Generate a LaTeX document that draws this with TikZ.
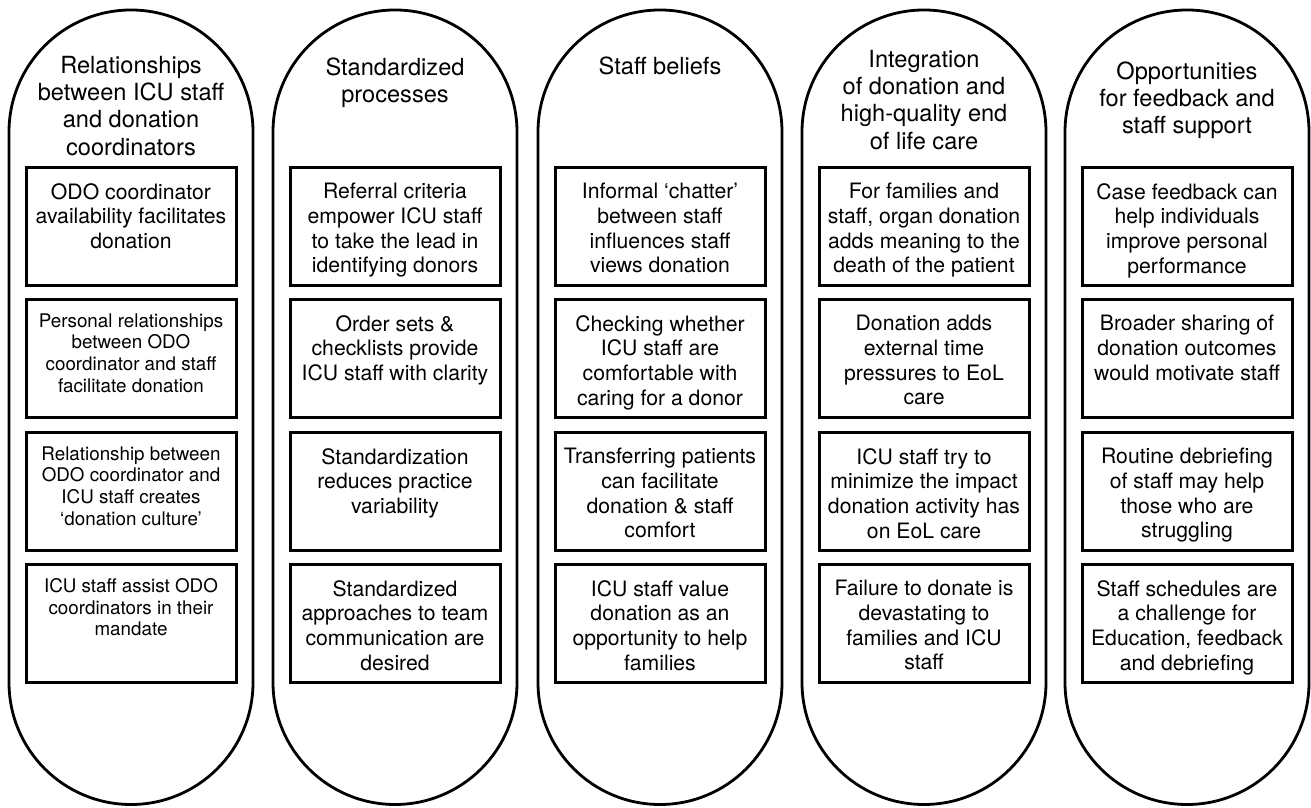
\documentclass[tikz,border=0pt]{standalone}
\usepackage{fontspec}
\setmainfont{TeX Gyre Heros}

\begin{document}
\begin{tikzpicture}[
    x=0.5pt, y=0.5pt,
    pill/.style={draw=black, line width=1.4pt},
    cell/.style={draw=black, line width=1.5pt},
    head/.style={font=\fontsize{11.8}{13.6}\selectfont, align=center,
                 inner sep=0pt, anchor=north},
    txt/.style={font=\fontsize{10.6}{12.3}\selectfont, align=center,
                inner sep=0pt, anchor=north},
    txts/.style={txt, font=\fontsize{9.4}{10.85}\selectfont},
]
\useasboundingbox (0,0) rectangle (1311,808);

% ===================== Relationships =====================
\draw[pill] (9,676) arc[start angle=180, end angle=0, radius=122]
      -- (253,125.5) arc[start angle=0, end angle=-180, radius=122] -- cycle;
\node[head] (hRel) at (131,752)
      {Relationships\\between ICU staff\\and donation\\coordinators};

\draw[cell] (26,640) rectangle (236,522);
\node[txt] (rel1) at (131,625) {ODO coordinator\\availability facilitates\\donation};

\draw[cell] (26,508) rectangle (236,390);
\node[txts] (rel2) at (131,495) {Personal relationships\\between ODO\\coordinator and staff\\facilitate donation};

\draw[cell] (26,375) rectangle (236,257);
\node[txts] (rel3) at (131,362) {Relationship between\\ODO coordinator and\\ICU staff creates\\‘donation culture’};

\draw[cell] (26,243) rectangle (236,125);
\node[txts] (rel4) at (131,230) {ICU staff assist ODO\\coordinators in their\\mandate};

% ===================== Standardized processes =====================
\draw[pill] (273,676) arc[start angle=180, end angle=0, radius=122]
      -- (517,125.5) arc[start angle=0, end angle=-180, radius=122] -- cycle;
\node[head] (hStd) at (395,751) {Standardized\\processes};

\draw[cell] (290,640) rectangle (500,522);
\node[txt] (std1) at (395,625) {Referral criteria\\empower ICU staff\\to take the lead in\\identifying donors};

\draw[cell] (290,508) rectangle (500,390);
\node[txt] (std2) at (395,493) {Order sets \&\\checklists provide\\ICU staff with clarity};

\draw[cell] (290,375) rectangle (500,257);
\node[txt] (std3) at (395,360) {Standardization\\reduces practice\\variability};

\draw[cell] (290,243) rectangle (500,125);
\node[txt] (std4) at (395,228) {Standardized\\approaches to team\\communication are\\desired};

% ===================== Staff beliefs =====================
\draw[pill] (538,676) arc[start angle=180, end angle=0, radius=122]
      -- (782,125.5) arc[start angle=0, end angle=-180, radius=122] -- cycle;
\node[head] (hBel) at (660,752) {Staff beliefs};

\draw[cell] (555,640) rectangle (765,522);
\node[txt] (bel1) at (660,625) {Informal ‘chatter’\\between staff\\influences staff\\views donation};

\draw[cell] (555,508) rectangle (765,390);
\node[txt] (bel2) at (660,493) {Checking whether\\ICU staff are\\comfortable with\\caring for a donor};

\draw[cell] (555,375) rectangle (765,257);
\node[txt] (bel3) at (660,360) {Transferring patients\\can facilitate\\donation \& staff\\comfort};

\draw[cell] (555,243) rectangle (765,125);
\node[txt] (bel4) at (660,228) {ICU staff value\\donation as an\\opportunity to help\\families};

% ===================== Integration / EoL care =====================
\draw[pill] (802,676) arc[start angle=180, end angle=0, radius=122]
      -- (1046,125.5) arc[start angle=0, end angle=-180, radius=122] -- cycle;
\node[head] (hInt) at (924,758)
      {Integration\\of donation and\\high-quality end\\of life care};

\draw[cell] (819,640) rectangle (1029,522);
\node[txt] (int1) at (924,625) {For families and\\staff, organ donation\\adds meaning to the\\death of the patient};

\draw[cell] (819,508) rectangle (1029,390);
\node[txt] (int2) at (924,493) {Donation adds\\external time\\pressures to EoL\\care};

\draw[cell] (819,375) rectangle (1029,257);
\node[txt] (int3) at (924,360) {ICU staff try to\\minimize the impact\\donation activity has\\on EoL care};

\draw[cell] (819,243) rectangle (1029,125);
\node[txt] (int4) at (924,228) {Failure to donate is\\devastating to\\families and ICU\\staff};

% ===================== Feedback and support =====================
\draw[pill] (1065,676) arc[start angle=180, end angle=0, radius=122]
      -- (1309,125.5) arc[start angle=0, end angle=-180, radius=122] -- cycle;
\node[head] (hOpp) at (1187,747)
      {Opportunities\\for feedback and\\staff support};

\draw[cell] (1082,640) rectangle (1292,522);
\node[txt] (opp1) at (1187,625) {Case feedback can\\help individuals\\improve personal\\performance};

\draw[cell] (1082,508) rectangle (1292,390);
\node[txt] (opp2) at (1187,493) {Broader sharing of\\donation outcomes\\would motivate staff};

\draw[cell] (1082,375) rectangle (1292,257);
\node[txt] (opp3) at (1187,360) {Routine debriefing\\of staff may help\\those who are\\struggling};

\draw[cell] (1082,243) rectangle (1292,125);
\node[txt] (opp4) at (1187,228) {Staff schedules are\\a challenge for\\Education, feedback\\and debriefing};

\end{tikzpicture}
\end{document}
